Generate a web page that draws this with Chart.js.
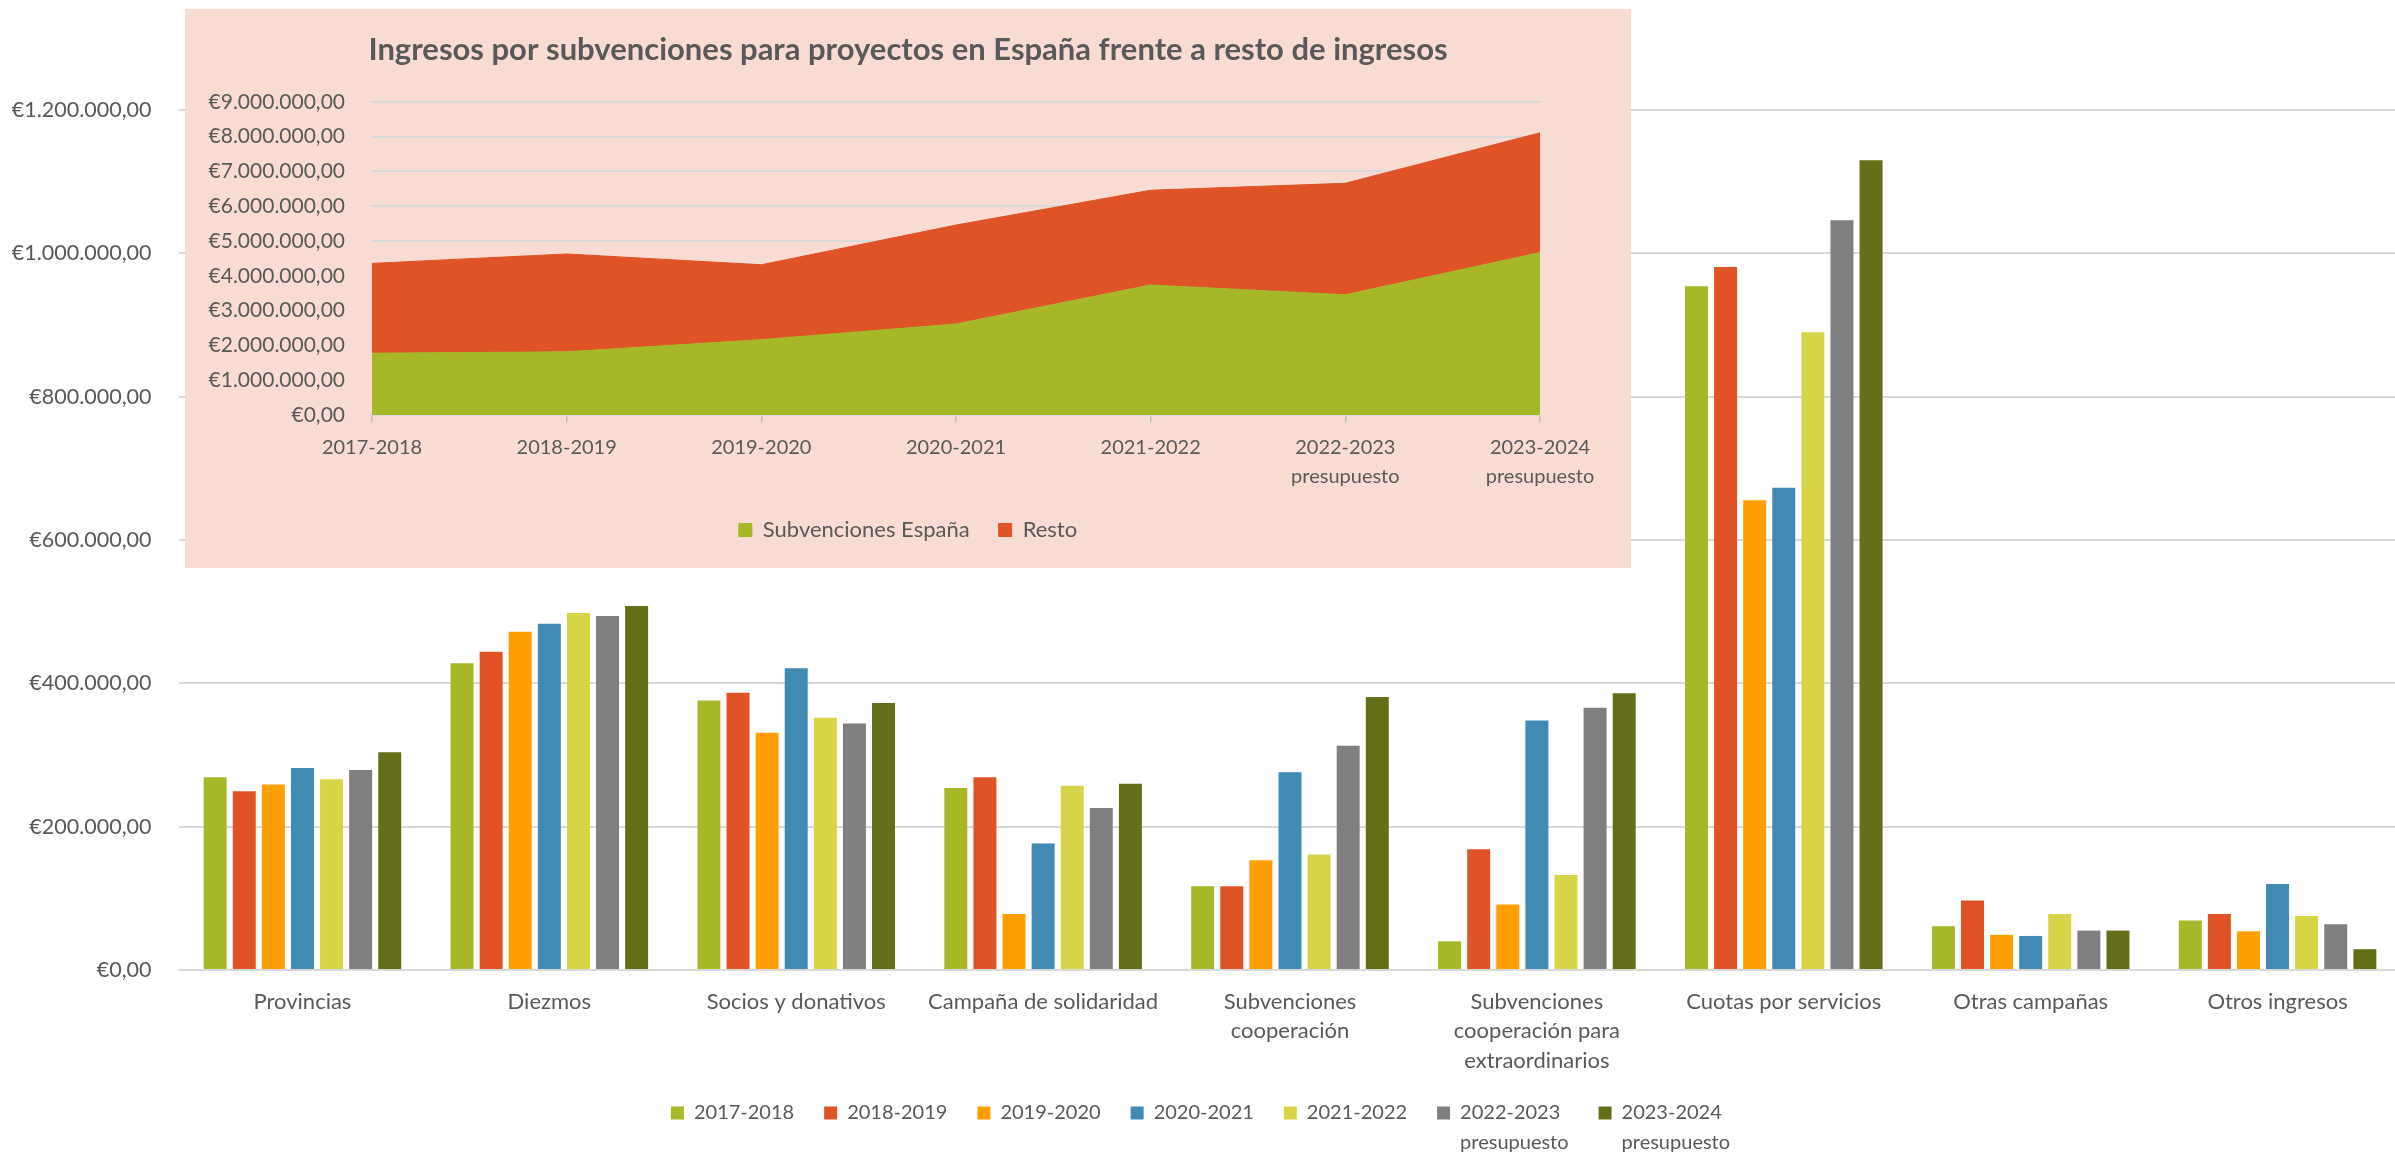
<!DOCTYPE html>
<html><head><meta charset="utf-8">
<script src="https://cdn.jsdelivr.net/npm/chart.js@4.4.1/dist/chart.umd.min.js"></script>
<style>
html,body{margin:0;padding:0;background:#fff;overflow:hidden;width:2395px;height:1155px;}
#wrap{position:relative;width:2395px;height:1155px;overflow:hidden;}
#main{position:absolute;left:0;top:0;}
#inset{position:absolute;left:185px;top:9px;background:#F8DBD3;}
</style></head><body>
<div id="wrap">
<canvas id="main" width="2402" height="1155"></canvas>
<canvas id="inset" width="1446" height="559"></canvas>
</div>
<script>
// ---------- Main chart data ----------
const categories = [
  'Provincias', 'Diezmos', 'Socios y donativos', 'Campaña de solidaridad',
  ['Subvenciones', 'cooperación'],
  ['Subvenciones', 'cooperación para', 'extraordinarios'],
  'Cuotas por servicios', 'Otras campañas', 'Otros ingresos'
];
const seriesLabels = ['2017-2018', '2018-2019', '2019-2020', '2020-2021', '2021-2022',
  ['2022-2023', 'presupuesto'], ['2023-2024', 'presupuesto']];
const s2017_18 = [269000, 428000, 376000, 254000, 117000, 40000, 954000, 61000, 69000];
const s2018_19 = [249500, 444000, 387000, 269000, 117000, 168500, 981000, 97000, 78000];
const s2019_20 = [259000, 472000, 331000, 78000, 153000, 91500, 655500, 49000, 54000];
const s2020_21 = [282000, 483000, 421000, 176500, 276000, 348000, 673000, 47500, 120000];
const s2021_22 = [266000, 498000, 352000, 257000, 161000, 132500, 890000, 78000, 75500];
const s2022_23 = [279000, 494000, 344000, 226000, 313000, 366000, 1046000, 55000, 64000];
const s2023_24 = [304000, 508000, 372500, 260000, 381000, 386000, 1130000, 55000, 29000];
const mainTicks = [0, 200000, 400000, 600000, 800000, 1000000, 1200000];

// ---------- Inset chart data ----------
const insetTitle = 'Ingresos por subvenciones para proyectos en España frente a resto de ingresos';
const insetYears = ['2017-2018', '2018-2019', '2019-2020', '2020-2021', '2021-2022',
  ['2022-2023', 'presupuesto'], ['2023-2024', 'presupuesto']];
const subvEspana = [1780000, 1820000, 2170000, 2620000, 3740000, 3460000, 4670000];
const resto      = [2580000, 2810000, 2150000, 2840000, 2720000, 3200000, 3440000];
const insetTicks = [0, 1000000, 2000000, 3000000, 4000000, 5000000, 6000000, 7000000, 8000000, 9000000];

// ---------- helpers ----------
const seriesValues = [s2017_18, s2018_19, s2019_20, s2020_21, s2021_22, s2022_23, s2023_24];
const barColors = ['#A6B727', '#DF5327', '#FE9E00', '#418AB3', '#D7D447', '#7F7F7F', '#646E19'];
const TXT = '#595959';
const FONT = 'Lato, "Open Sans", sans-serif';

function euro(v) {
  const parts = Math.abs(v).toFixed(2).split('.');
  return '€' + parts[0].replace(/\B(?=(\d{3})+(?!\d))/g, '.') + ',' + parts[1];
}
function patchMeasure(ctx) {
  const orig = ctx.measureText.bind(ctx);
  ctx.measureText = function (t) {
    if (Array.isArray(t)) {
      let best = orig('');
      for (const s of t) { const m = orig(String(s)); if (m.width > best.width) best = m; }
      return best;
    }
    return orig(t);
  };
}
// let multi-line legend labels / axis labels draw below their boxes
const unclip = {
  id: 'unclip',
  afterLayout(chart) {
    if (chart.legend) chart.legend.bottom = chart.height;
    const x = chart.scales.x;
    if (x) x.bottom = x.bottom + 14;
  }
};

// ---------- Main bar chart ----------
const mainCtx = document.getElementById('main').getContext('2d');
patchMeasure(mainCtx);
new Chart(mainCtx, {
  type: 'bar',
  plugins: [unclip],
  data: {
    labels: categories,
    datasets: seriesValues.map((d, i) => ({
      label: seriesLabels[i], data: d, backgroundColor: barColors[i],
      categoryPercentage: 0.825, barPercentage: 0.79
    }))
  },
  options: {
    responsive: false, devicePixelRatio: 1, animation: false,
    layout: { padding: { top: 110, left: 0, right: 1, bottom: 22 } },
    plugins: {
      legend: {
        position: 'bottom',
        labels: { boxWidth: 13, boxHeight: 13, padding: 30, color: TXT,
          font: { family: FONT, size: 20, lineHeight: 1.5 } }
      },
      tooltip: { enabled: false }
    },
    scales: {
      x: {
        grid: { display: false, drawTicks: false }, border: { display: false },
        ticks: { color: TXT, font: { family: FONT, size: 22, lineHeight: 1.336 }, padding: 17,
          autoSkip: false, maxRotation: 0, minRotation: 0 },
        afterFit(s) { s.height = 103; }
      },
      y: {
        min: mainTicks[0], max: mainTicks[mainTicks.length - 1],
        afterBuildTicks(s) { s.ticks = mainTicks.map(v => ({ value: v })); },
        ticks: { color: TXT, font: { family: FONT, size: 21.5 }, padding: 27.5, callback: v => euro(v) },
        grid: { color: '#D9D9D9', lineWidth: 2, drawTicks: false },
        border: { display: false },
        afterFit(s) { s.width = 179; }
      }
    }
  }
});

// ---------- Inset stacked area chart ----------
const insetCtx = document.getElementById('inset').getContext('2d');
patchMeasure(insetCtx);
new Chart(insetCtx, {
  type: 'line',
  data: {
    labels: insetYears,
    datasets: [
      { label: 'Subvenciones España', data: subvEspana, backgroundColor: '#A6B727', borderColor: '#A6B727',
        borderWidth: 1, pointRadius: 0, fill: 'origin', tension: 0 },
      { label: 'Resto', data: resto, backgroundColor: '#DF5327', borderColor: '#DF5327',
        borderWidth: 1, pointRadius: 0, fill: '-1', tension: 0 }
    ]
  },
  options: {
    responsive: false, devicePixelRatio: 1, animation: false,
    layout: { padding: { top: 0, left: 0, right: 0, bottom: 17 } },
    plugins: {
      title: { display: true, text: insetTitle, color: TXT,
        font: { family: FONT, size: 31, weight: 'bold', lineHeight: 1.2 },
        padding: { top: 22.1, bottom: 33.5 } },
      legend: {
        position: 'bottom',
        labels: { boxWidth: 13, boxHeight: 13, padding: 29, color: TXT,
          font: { family: FONT, size: 22 } }
      },
      tooltip: { enabled: false }
    },
    scales: {
      x: {
        offset: false,
        grid: { display: true, drawOnChartArea: false, drawTicks: true, tickLength: 7, color: '#BFBFBF', lineWidth: 1.5 },
        border: { display: false },
        ticks: { color: TXT, font: { family: FONT, size: 20, lineHeight: 1.43 }, padding: 11,
          autoSkip: false, maxRotation: 0, minRotation: 0 },
        afterFit(s) { s.height = 74.8; s.paddingRight = 91; }
      },
      y: {
        stacked: true,
        min: insetTicks[0], max: insetTicks[insetTicks.length - 1],
        afterBuildTicks(s) { s.ticks = insetTicks.map(v => ({ value: v })); },
        ticks: { color: TXT, font: { family: FONT, size: 21 }, padding: 27, callback: v => euro(v) },
        grid: { color: '#D9D9D9', lineWidth: 2, drawTicks: false },
        border: { display: false },
        afterFit(s) { s.width = 187; }
      }
    }
  }
});
</script>
</body></html>
